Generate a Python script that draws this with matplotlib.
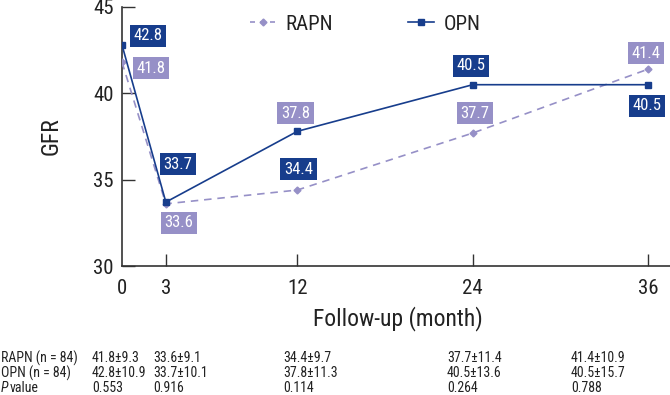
import matplotlib
matplotlib.use("Agg")
import matplotlib.pyplot as plt
from matplotlib.lines import Line2D

# ── data ───────────────────────────────────────────────────────────────────
months = [0, 3, 12, 24, 36]
rapn = [41.8, 33.6, 34.4, 37.7, 41.4]
opn = [42.8, 33.7, 37.8, 40.5, 40.5]

rapn_sd = ["41.8±9.3", "33.6±9.1", "34.4±9.7", "37.7±11.4", "41.4±10.9"]
opn_sd = ["42.8±10.9", "33.7±10.1", "37.8±11.3", "40.5±13.6", "40.5±15.7"]
p_values = ["0.553", "0.916", "0.114", "0.264", "0.788"]
row_labels = ["RAPN (n = 84)", "OPN (n = 84)", "value"]

xticks = [0, 3, 12, 24, 36]
yticks = [30, 35, 40, 45]

NAVY = "#173d8c"
PURPLE = "#9690c7"
FONT = ["Roboto Condensed", "Archivo Narrow", "DejaVu Sans"]

# value boxes: (series, index, box colour) – the 12-month box colours are
# swapped in the original figure, kept as printed
boxes = [
    ("opn", 0, NAVY), ("rapn", 0, PURPLE),
    ("opn", 1, NAVY), ("rapn", 1, PURPLE),
    ("opn", 2, PURPLE), ("rapn", 2, NAVY),
    ("opn", 3, NAVY), ("rapn", 3, PURPLE),
    ("rapn", 4, PURPLE), ("opn", 4, NAVY),
]
# offsets of each box from its point, in pixels (x right, y up)
box_offsets = [(26, 9), (29, -6), (12, 38), (13, -19), (-2, 18),
               (1, 21), (-2, 19), (2, 20), (-2, 16), (-1, -21)]

plt.rcParams.update({"font.family": FONT, "font.size": 11})

fig = plt.figure(figsize=(6.7, 3.95), dpi=100)
W, H = 670.0, 395.0
ax = fig.add_axes([122 / W, 1 - 266 / H, 548 / W, 259 / H])

ax.plot(months, rapn, color=PURPLE, linestyle=(0, (4.5, 3.5)), linewidth=1.2,
        marker="D", markersize=3.5, zorder=3)
ax.plot(months, opn, color=NAVY, linewidth=1.2,
        marker="s", markersize=4, zorder=4)

series = {"opn": opn, "rapn": rapn}
for (key, i, col), (dx, dy) in zip(boxes, box_offsets):
    v = series[key][i]
    ax.annotate(f"{v:.1f}", xy=(months[i], v), xytext=(dx * 0.72, dy * 0.72),
                textcoords="offset points", ha="center", va="center",
                color="white", fontsize=12, zorder=6,
                bbox=dict(boxstyle="square,pad=0.22", facecolor=col, edgecolor="none"))

ax.set_xlim(0, 37.5)
ax.set_ylim(30, 45)
ax.set_xticks(xticks)
ax.set_yticks(yticks)
ax.tick_params(direction="in", length=9, width=1, labelsize=15, color="#333333",
               labelcolor="#222222")
ax.tick_params(axis="x", pad=9)
ax.tick_params(axis="y", pad=6)
ax.xaxis.get_major_ticks()[0].tick1line.set_visible(False)
for s in ["top", "right"]:
    ax.spines[s].set_visible(False)
for s in ["left", "bottom"]:
    ax.spines[s].set_color("#333333")
    ax.spines[s].set_linewidth(1.2)
ax.set_ylabel("GFR", fontsize=17, color="#222222")
ax.yaxis.set_label_coords(-0.108, 0.5)
ax.set_xlabel("Follow-up (month)", fontsize=17, color="#222222", va="top")
ax.xaxis.set_label_coords(0.504, -0.155)

# legend
handles = [
    Line2D([0], [0], color=PURPLE, linestyle=(0, (3, 3)), marker="D",
           markersize=3.5, linewidth=1.2, label="RAPN"),
    Line2D([0], [0], color=NAVY, marker="s", markersize=4, linewidth=1.2,
           label="OPN"),
]
fig.legend(handles=handles, ncol=2, loc="center left",
           bbox_to_anchor=(250 / W, 1 - 24 / H), frameon=False, fontsize=15,
           handlelength=1.25, columnspacing=3.6, handletextpad=0.45,
           borderpad=0, borderaxespad=0, labelcolor="#222222")

# ── table under the chart ─────────────────────────────────────────────────
col_x = [92, 153, 283, 447, 571]
row_y = [358, 373, 388]
tkw = dict(fontsize=10, va="center", color="#222222")
for i, lab in enumerate(row_labels[:2]):
    fig.text(1 / W, 1 - row_y[i] / H, lab, **tkw)
fig.text(1 / W, 1 - row_y[2] / H, "P", style="italic", **tkw)
fig.text(10 / W, 1 - row_y[2] / H, row_labels[2], **tkw)
for rows, y in zip([rapn_sd, opn_sd, p_values], row_y):
    for x, txt in zip(col_x, rows):
        fig.text(x / W, 1 - y / H, txt, **tkw)

fig.savefig("out.png", dpi=100)
